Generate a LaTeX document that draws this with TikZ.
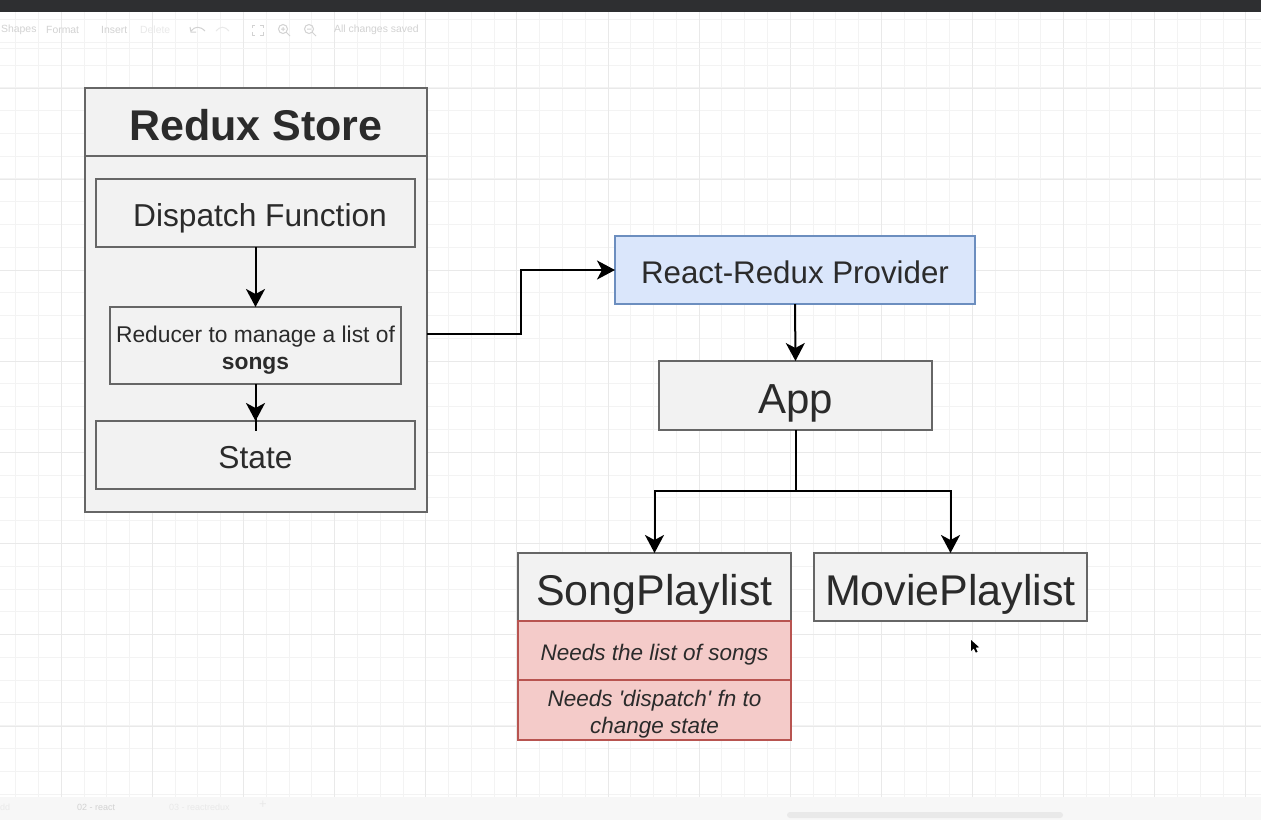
\documentclass[tikz,border=0pt]{standalone}
\usepackage{fontspec}
\setmainfont{Liberation Sans}[Ligatures=TeXOff]
\usetikzlibrary{arrows.meta}
\definecolor{boxline}{HTML}{666666}
\definecolor{boxfill}{HTML}{F2F2F2}
\definecolor{txt}{HTML}{2B2B2B}
\definecolor{redline}{HTML}{B85450}
\definecolor{redfill}{HTML}{F4CBC9}
\definecolor{blueline}{HTML}{6C8EBF}
\definecolor{bluefill}{HTML}{DAE6FB}
\definecolor{gridminor}{HTML}{F3F3F3}
\definecolor{gridmajor}{HTML}{E9E9E9}
\definecolor{topbar}{HTML}{2E2F31}
\definecolor{uitext}{HTML}{D2D2D2}
\newcommand{\oneline}[1]{\raisebox{0pt}[0.88em][0pt]{#1}}
\newcommand{\twolines}[3]{\raisebox{0pt}[#3][0pt]{\begin{tabular}[b]{@{}c@{}}#1\\#2\end{tabular}}}
\tikzset{
  box/.style={draw=boxline, fill=boxfill, line width=2pt, inner sep=0pt, outer sep=0pt, text=txt, align=center},
  redbox/.style={draw=redline, fill=redfill, line width=2pt, inner sep=0pt, outer sep=0pt, text=txt, align=center,
    minimum width=273pt, font=\fontsize{22.5}{27.5}\selectfont\itshape},
  conn/.style={draw=black, line width=2pt, -{Stealth[length=18pt,width=19pt,inset=5pt]}},
  plain/.style={draw=black, line width=2pt},
  gmin/.style={draw=gridminor, line width=1pt},
  gmaj/.style={draw=gridmajor, line width=1pt},
  ui/.style={text=uitext, inner sep=0pt, anchor=west, font=\fontsize{10.4}{12}\selectfont},
  uiicon/.style={draw=uitext, line width=1pt},
}
\begin{document}
\begin{tikzpicture}[x=1pt,y=-1pt]
\useasboundingbox (0,0) rectangle (1261,820);
\fill[white] (0,0) rectangle (1261,820);
% grid
\foreach \i in {0,...,55} \draw[gmin] ({15.74+22.78*\i},12) -- ({15.74+22.78*\i},797);
\foreach \i in {0,...,34} \draw[gmin] (0,{19.5+22.78*\i}) -- (1261,{19.5+22.78*\i});
\foreach \i in {0,...,13} \draw[gmaj] ({61.3+91.12*\i},12) -- ({61.3+91.12*\i},797);
\foreach \i in {0,...,7} \draw[gmaj] (0,{88.18+91.12*\i}) -- (1261,{88.18+91.12*\i});
% top bar and toolbar
\fill[topbar] (0,0) rectangle (1261,12);
\draw[gridminor, line width=1pt] (0,48) -- (1261,48);
\node[ui] (tShapes) at (1,30) {Shapes};
\node[ui] (tFormat) at (46,30) {Format};
\node[ui] (tInsert) at (101,30) {Insert};
\node[ui, text=gridmajor] (tDelete) at (140,30) {Delete};
\node[ui] (tSaved) at (334,30) {All changes saved};
\draw[uiicon] (191,31) .. controls (195,26) and (200,26) .. (205,31);
\draw[uiicon] (190,27) -- (191,32) -- (196,32);
\draw[uiicon, draw=gridmajor] (216,31) .. controls (220,26) and (225,26) .. (229,31);
\draw[uiicon] (252,28) -- (252,25) -- (255,25) (260,25) -- (263,25) -- (263,28) (252,32) -- (252,35) -- (255,35) (260,35) -- (263,35) -- (263,32);
\draw[uiicon] (283,29) circle (4.5) (286.5,32.5) -- (290,36) (281,29) -- (285,29) (283,27) -- (283,31);
\draw[uiicon] (309,29) circle (4.5) (312.5,32.5) -- (316,36) (307,29) -- (311,29);
% bottom tab bar
\fill[white!97!black] (0,797) rectangle (1261,820);
\node[ui, text=gridmajor, font=\fontsize{9}{11}\selectfont] (tab1) at (0,807) {dd};
\node[ui, text=uitext, font=\fontsize{9}{11}\selectfont] (tab2) at (77,807) {02 - react};
\node[ui, text=gridmajor, font=\fontsize{9}{11}\selectfont] (tab3) at (169,807) {03 - reactredux};
\node[ui, text=gridmajor, font=\fontsize{13}{14}\selectfont] (tabplus) at (259,805) {+};
\fill[gridmajor, rounded corners=3pt] (787,812) rectangle (1063,818);

% Redux store container
\node[box, minimum width=342pt, minimum height=424pt] (store) at (256,300) {};
\coordinate (hdr) at (0,156);
\draw[draw=boxline, line width=2pt] (store.west |- hdr) -- (store.east |- hdr);
\node[text=txt, inner sep=0pt, font=\fontsize{43}{48}\selectfont\bfseries] (title) at (256,122) {\oneline{Redux Store}};
\node[box, minimum width=319pt, minimum height=68pt, font=\fontsize{31.7}{36}\selectfont] (dispatch) at (255.5,213) {\oneline{\hspace*{9pt}Dispatch Function}};
\node[box, minimum width=291pt, minimum height=77pt, font=\fontsize{22.8}{27}\selectfont] (reducer) at (255.5,345.5) {\twolines{Reducer to manage a list of}{\textbf{songs}}{47.1pt}};
\node[box, minimum width=319pt, minimum height=68pt, font=\fontsize{31.7}{36}\selectfont] (state) at (255.5,455) {\oneline{State}};

% right side
\node[box, draw=blueline, fill=bluefill, minimum width=360pt, minimum height=68pt, font=\fontsize{31.3}{36}\selectfont] (provider) at (795,270) {\oneline{React-Redux Provider}};
\node[box, minimum width=273pt, minimum height=69pt, font=\fontsize{42}{48}\selectfont] (app) at (795.5,395.5) {\oneline{App}};
\node[box, minimum width=273pt, minimum height=68pt, font=\fontsize{43}{48}\selectfont] (song) at (654.5,587) {\oneline{SongPlaylist}};
\node[box, minimum width=273pt, minimum height=68pt, font=\fontsize{43}{48}\selectfont] (movie) at (950.5,587) {\oneline{MoviePlaylist}};
\node[redbox, minimum height=59pt] (need1) at (654.5,650.5) {\oneline{Needs the list of songs}};
\node[redbox, minimum height=60pt] (need2) at (654.5,710) {\twolines{Needs 'dispatch' fn to}{change state}{47.3pt}};

% connectors
\draw[conn] (dispatch.south) -- (reducer.north);
\draw[plain] (reducer.south) -- ([yshift=-10pt]state.north);
\draw[conn] (reducer.south) -- (state.north);
\draw[conn] ([yshift=-34pt]store.east) -- ++(94,0) |- (provider.west);
\draw[conn] (provider.south) -- (app.north);
\draw[conn] (app.south) -- ++(0,61) -| (song.north);
\draw[conn] (app.south) -- ++(0,61) -| (movie.north);

% mouse cursor
\fill[black] (971,640) -- (971,651) -- (973.8,648.4) -- (975.8,652.6) -- (977.6,651.8) -- (975.6,647.6) -- (979.2,647.4) -- cycle;
\end{tikzpicture}
\end{document}
